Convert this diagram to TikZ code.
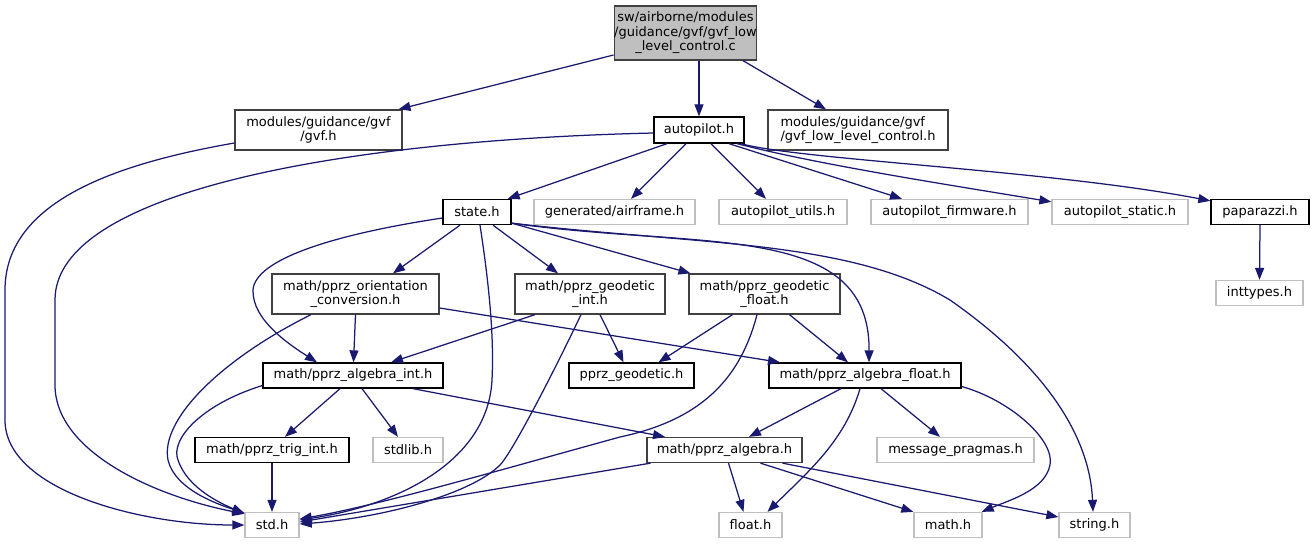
\documentclass[tikz,border=0pt]{standalone}
\usepackage{fontspec}
\setmainfont{DejaVu Sans}
\usetikzlibrary{arrows.meta}
\definecolor{edgecol}{HTML}{191970}
\definecolor{greyfill}{HTML}{BFBFBF}
\definecolor{greyline}{HTML}{BFBFBF}
\definecolor{darkline}{HTML}{404040}
\tikzset{
  box/.style={draw=black, line width=1.3pt, inner sep=0pt, minimum height=25pt,
    font=\fontsize{13pt}{14.5pt}\selectfont, align=center},
  dbox/.style={box, draw=darkline},
  gbox/.style={box, draw=greyline},
  mainbox/.style={box, draw=darkline, fill=greyfill},
  edge/.style={draw=edgecol, line width=1.25pt, -{Triangle[length=12pt,width=9pt]}},
}
\begin{document}
\begin{tikzpicture}[x=1pt,y=-1pt]
\useasboundingbox (0,0) rectangle (1314,544);
% nodes
\node[mainbox, minimum width=139pt, minimum height=54pt] (main) at (685.5,33) {sw/airborne/modules\\/guidance/gvf/gvf\_low\\\_level\_control.c};
\node[dbox, minimum width=167pt, minimum height=40pt] (gvf) at (318.5,130) {modules/guidance/gvf\\/gvf.h};
\node[box, minimum width=90pt, minimum height=26pt] (autopilot) at (699,130) {autopilot.h};
\node[dbox, minimum width=180pt, minimum height=40pt, align=left] (gvfllc) at (858,130) {modules/guidance/gvf\\/gvf\_low\_level\_control.h};
\node[box, minimum width=68pt] (state) at (477,212) {state.h};
\node[gbox, minimum width=161pt] (airframe) at (614.5,212) {generated/airframe.h};
\node[gbox, minimum width=128pt] (aputils) at (783,212) {autopilot\_utils.h};
\node[gbox, minimum width=157pt] (apfirm) at (949.5,212) {autopilot\_firmware.h};
\node[gbox, minimum width=136pt] (apstatic) at (1120,212) {autopilot\_static.h};
\node[box, minimum width=98pt] (paparazzi) at (1260,212) {paparazzi.h};
\node[dbox, minimum width=167pt, minimum height=40pt] (orient) at (355.5,294) {math/pprz\_orientation\\\_conversion.h};
\node[dbox, minimum width=150pt, minimum height=40pt] (geoint) at (590,294) {math/pprz\_geodetic\\\_int.h};
\node[dbox, minimum width=151pt, minimum height=40pt] (geofloat) at (764.5,294) {math/pprz\_geodetic\\\_float.h};
\node[gbox, minimum width=87pt] (inttypes) at (1259.5,293) {inttypes.h};
\node[box, minimum width=180pt] (algint) at (353,375.5) {math/pprz\_algebra\_int.h};
\node[box, minimum width=125pt] (geodetic) at (631.5,375.5) {pprz\_geodetic.h};
\node[box, minimum width=192pt] (algfloat) at (865,375.5) {math/pprz\_algebra\_float.h};
\node[box, minimum width=154pt] (trigint) at (272,450) {math/pprz\_trig\_int.h};
\node[gbox, minimum width=70pt] (stdlib) at (408,450) {stdlib.h};
\node[dbox, minimum width=155pt] (algebra) at (724.5,450) {math/pprz\_algebra.h};
\node[gbox, minimum width=157pt] (pragmas) at (955.5,450) {message\_pragmas.h};
\node[gbox, minimum width=54pt] (std) at (272,525) {std.h};
\node[gbox, minimum width=63pt] (float) at (750.5,525) {float.h};
\node[gbox, minimum width=68pt] (math) at (948,525) {math.h};
\node[gbox, minimum width=71pt] (string) at (1094.5,525) {string.h};
% main
\draw[edge] ([yshift=-22pt]main.west) -- ([xshift=80pt]gvf.north);
\draw[edge] ([xshift=13.5pt]main.south) -- (autopilot.north);
\draw[edge] ([xshift=57.5pt]main.south) -- ([xshift=-32pt]gvfllc.north);
% gvf
\draw[edge] ([yshift=-13pt]gvf.west) .. controls (120,163) and (5,200) .. (5,290) -- (5,420) .. controls (5,490) and (140,525) .. (std.west);
% autopilot
\draw[edge] ([yshift=-3pt]autopilot.west) .. controls (350,140) and (55,190) .. (55,300) -- (55,385) .. controls (55,450) and (150,495) .. ([yshift=-2pt]std.north west);
\draw[edge] ([xshift=-32pt]autopilot.south) -- ([xshift=-4pt]state.north east);
\draw[edge] ([xshift=-13pt]autopilot.south) -- ([xshift=16.5pt]airframe.north);
\draw[edge] ([xshift=12pt]autopilot.south) -- ([xshift=-17pt]aputils.north);
\draw[edge] ([xshift=30pt]autopilot.south) -- ([xshift=-47.5pt]apfirm.north);
\draw[edge] ([xshift=38pt]autopilot.south) .. controls (820,165) and (950,185) .. ([yshift=-3pt]apstatic.north west);
\draw[edge] ([xshift=42pt]autopilot.south) .. controls (800,160) and (1050,170) .. ([yshift=-2pt]paparazzi.north west);
\draw[edge] (paparazzi.south) -- (inttypes.north);
% state
\draw[edge] ([xshift=3pt]state.south) .. controls (490,290) and (494,340) .. (492,380) .. controls (488,460) and (400,505) .. ([yshift=5pt]std.east);
\draw[edge] ([xshift=-17pt]state.south) -- ([xshift=37.5pt]orient.north);
\draw[edge] ([xshift=16pt]state.south) -- ([xshift=-32pt]geoint.north);
\draw[edge] ([yshift=2pt]state.south east) -- ([xshift=-74pt]geofloat.north);
\draw[edge] ([yshift=-6pt]state.west) .. controls (330,235) and (255,260) .. (253,290) .. controls (252,320) and (290,345) .. ([xshift=-36pt]algint.north);
\draw[edge] ([yshift=2pt]state.south east) .. controls (700,250) and (870,220) .. ([xshift=4pt]algfloat.north);
\draw[edge] ([yshift=2pt]state.south east) .. controls (700,245) and (850,240) .. (950,300) .. controls (1050,370) and (1090,440) .. ([xshift=-1.5pt]string.north);
% orientation
\draw[edge] ([xshift=-44.5pt]orient.south) .. controls (220,360) and (160,420) .. (168,460) .. controls (175,490) and (220,505) .. ([yshift=-1pt]std.north west);
\draw[edge] (orient.south) -- ([xshift=0.5pt]algint.north);
\draw[edge] ([yshift=-14pt]orient.east) -- ([xshift=-85pt]algfloat.north);
% geodetic int
\draw[edge] ([xshift=-55pt]geoint.south) -- ([xshift=38pt]algint.north);
\draw[edge] ([xshift=10pt]geoint.south) -- ([xshift=-8pt]geodetic.north);
\draw[edge] ([xshift=-9pt]geoint.south) .. controls (545,390) and (510,455) .. (500,465) .. controls (470,495) and (380,518) .. ([yshift=1pt]std.east);
% geodetic float
\draw[edge] ([xshift=-32pt]geofloat.south) -- ([xshift=27pt]geodetic.north);
\draw[edge] ([xshift=25pt]geofloat.south) -- ([xshift=-17pt]algfloat.north);
\draw[edge] ([xshift=-7.5pt]geofloat.south) .. controls (740,380) and (700,420) .. (620,437) .. controls (500,470) and (380,505) .. ([yshift=6pt]std.east);
% algebra int
\draw[edge] ([yshift=-10pt]algint.west) .. controls (200,405) and (170,440) .. (178,460) .. controls (188,490) and (225,505) .. ([yshift=-2pt]std.north west);
\draw[edge] ([xshift=-13pt]algint.south) -- ([xshift=13pt]trigint.north);
\draw[edge] ([xshift=9pt]algint.south) -- ([xshift=-10pt]stdlib.north);
\draw[edge] ([xshift=60pt]algint.south) -- ([xshift=-59.5pt]algebra.north);
% algebra float
\draw[edge] ([xshift=-24pt]algfloat.south) -- ([xshift=24.5pt]algebra.north);
\draw[edge] ([xshift=-5pt]algfloat.south) .. controls (845,440) and (810,470) .. ([xshift=17pt]float.north);
\draw[edge] ([xshift=16pt]algfloat.south) -- ([xshift=-15.5pt]pragmas.north);
\draw[edge] ([yshift=-11pt]algfloat.east) .. controls (1010,400) and (1055,440) .. (1050,465) .. controls (1045,490) and (1010,500) .. ([xshift=-1pt]math.north east);
% algebra
\draw[edge] ([xshift=-74pt]algebra.south) -- ([yshift=3pt]std.east);
\draw[edge] ([xshift=4pt]algebra.south) -- ([xshift=-7pt]float.north);
\draw[edge] ([xshift=36pt]algebra.south) -- (math.north west);
\draw[edge] ([xshift=58pt]algebra.south) -- ([yshift=8pt]string.west);
% trig
\draw[edge] (trigint.south) -- (std.north);
\end{tikzpicture}
\end{document}
